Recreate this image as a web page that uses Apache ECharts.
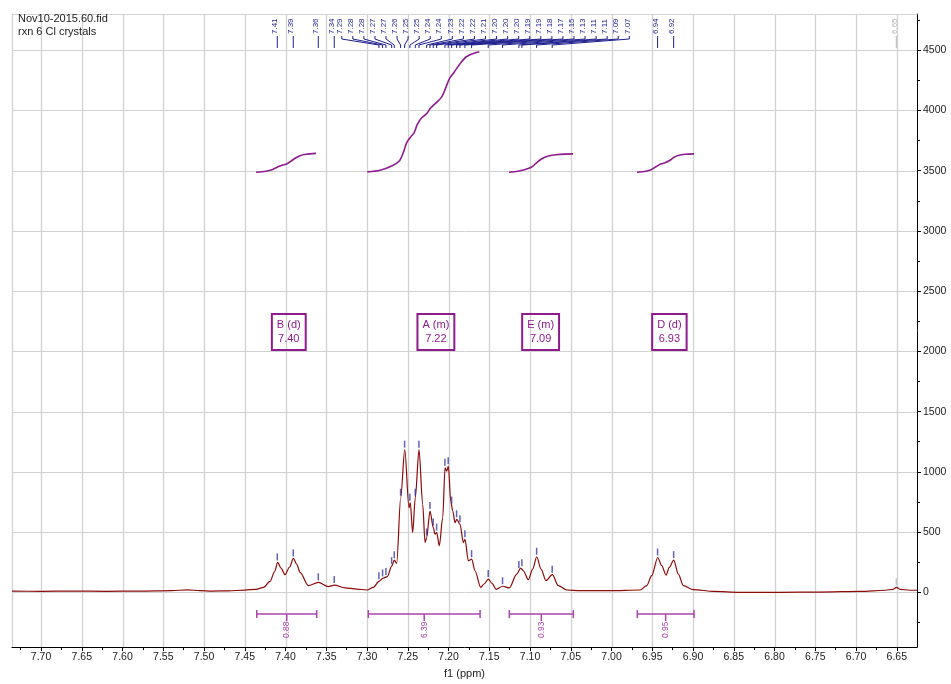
<!DOCTYPE html>
<html><head><meta charset="utf-8">
<script src="https://cdn.jsdelivr.net/npm/echarts@6/dist/echarts.min.js"></script>
<style>html,body{margin:0;padding:0;background:#fff}#c{width:951px;height:684px}</style>
</head><body><div id="c"></div>
<script>
// ---------------- DATA ----------------
const titleLines = ['Nov10-2015.60.fid', 'rxn 6 Cl crystals'];
const axisTitle = 'f1 (ppm)';

// axis tick labels
const xTickValues = [7.70, 7.65, 7.60, 7.55, 7.50, 7.45, 7.40, 7.35, 7.30, 7.25, 7.20, 7.15, 7.10, 7.05, 7.00, 6.95, 6.90, 6.85, 6.80, 6.75, 6.70, 6.65];
const yTickValues = [0, 500, 1000, 1500, 2000, 2500, 3000, 3500, 4000, 4500];

// 1H spectrum trace (ppm, intensity)
const specPpm = [7.7356, 7.70, 7.66, 7.62, 7.58, 7.54, 7.52, 7.505, 7.49, 7.47, 7.45, 7.4362, 7.427, 7.419, 7.4135, 7.4096, 7.4055, 7.4006, 7.395, 7.3904, 7.386, 7.3822, 7.372, 7.3597, 7.3475, 7.3401, 7.327, 7.3126, 7.3004, 7.2923, 7.2853, 7.28, 7.2751, 7.2697, 7.2665, 7.2636, 7.2587, 7.2537, 7.2485, 7.2469, 7.244, 7.2408, 7.2362, 7.2317, 7.2288, 7.2268, 7.2227, 7.2187, 7.2166, 7.2145, 7.2113, 7.2071, 7.2043, 7.2022, 7.2002, 7.1973, 7.1948, 7.192, 7.1899, 7.1859, 7.1818, 7.1798, 7.1757, 7.1716, 7.1675, 7.1605, 7.1564, 7.1512, 7.1466, 7.1417, 7.1335, 7.1254, 7.1163, 7.1114, 7.1082, 7.1021, 7.0967, 7.0918, 7.0865, 7.0804, 7.0726, 7.0653, 7.055, 7.0387, 7.0018, 6.965, 6.9568, 6.9507, 6.9433, 6.9384, 6.9331, 6.9291, 6.9237, 6.918, 6.9119, 6.8996, 6.8751, 6.8423, 6.793, 6.744, 6.695, 6.664, 6.6546, 6.6503, 6.646, 6.634, 6.6252];
const specIntensity = [10, 8, 10, 8, 10, 14, 20, 14, 10, 12, 18, 25, 41, 90, 170, 248, 200, 146, 210, 281, 230, 165, 55, 83, 47, 60, 37, 27, 19, 41, 91, 118, 130, 217, 267, 240, 785, 1184, 702, 744, 496, 785, 1184, 730, 413, 455, 675, 537, 482, 496, 386, 620, 1033, 1006, 1047, 758, 675, 578, 606, 564, 413, 440, 262, 275, 179, 41, 69, 110, 74, 25, 50, 36, 151, 201, 179, 105, 193, 295, 193, 97, 146, 55, 19, 14, 14, 19, 55, 138, 289, 221, 143, 207, 267, 151, 55, 22, 8, 0, 0, 2, 8, 17, 25, 41, 25, 17, 17];

// picked peaks
const peakPpm = [7.4101, 7.3905, 7.3598, 7.3402, 7.2854, 7.2809, 7.2768, 7.2698, 7.2666, 7.2588, 7.2539, 7.2474, 7.2408, 7.2363, 7.2269, 7.2228, 7.2188, 7.2146, 7.2044, 7.2004, 7.1962, 7.1901, 7.1860, 7.1799, 7.1717, 7.1513, 7.1337, 7.1137, 7.1100, 7.0919, 7.0728, 6.9435, 6.9238, 6.6506];
const peakHeight = [248, 281, 83, 60, 91, 115, 128, 217, 267, 785, 1184, 744, 785, 1184, 455, 675, 537, 496, 1033, 1047, 720, 606, 564, 440, 275, 110, 50, 185, 200, 295, 146, 289, 267, 41];
const peakMuted = [0,0,0,0,0,0,0,0,0,0,0,0,0,0,0,0,0,0,0,0,0,0,0,0,0,0,0,0,0,0,0,0,0,1];

// integration regions
const integralFrom = [7.4353, 7.2984, 7.1254, 6.9684];
const integralTo = [7.3617, 7.1613, 7.0469, 6.8988];
const integralValue = [0.88, 6.39, 0.93, 0.95];

// multiplet annotations
const multipletName = ['B (d)', 'A (m)', 'E (m)', 'D (d)'];
const multipletShift = [7.396, 7.2155, 7.087, 6.929];

// integral curves
const intB_ppm = [7.4362, 7.4239, 7.4166, 7.4104, 7.4043, 7.3982, 7.3933, 7.3883, 7.3822, 7.3748, 7.3626];
const intB_val = [3487, 3496, 3508, 3529, 3545, 3558, 3579, 3603, 3624, 3636, 3644];
const intA_ppm = [7.2996, 7.2840, 7.2697, 7.2604, 7.2555, 7.2513, 7.2472, 7.2423, 7.2383, 7.2329, 7.2267, 7.2218, 7.2153, 7.2083, 7.2043, 7.1990, 7.1933, 7.1859, 7.1785, 7.1703, 7.1622];
const intA_val = [3490, 3504, 3539, 3581, 3650, 3733, 3774, 3815, 3884, 3939, 3975, 4022, 4063, 4113, 4173, 4262, 4316, 4388, 4444, 4471, 4487];
const intE_ppm = [7.1258, 7.1147, 7.1049, 7.0975, 7.0914, 7.0865, 7.0804, 7.0730, 7.0632, 7.0472];
const intE_val = [3487, 3496, 3512, 3533, 3570, 3595, 3616, 3628, 3636, 3640];
const intD_ppm = [6.9687, 6.9577, 6.9515, 6.9454, 6.9405, 6.9344, 6.9282, 6.9233, 6.9172, 6.9098, 6.8988];
const intD_val = [3487, 3496, 3508, 3533, 3554, 3566, 3587, 3612, 3628, 3636, 3640];

// ---------------- LAYOUT / STYLE ----------------
const X_MIN = 6.6252, X_MAX = 7.7356;
const Y_MIN = -455, Y_MAX = 4801;
const BOX_Y = 2161;
const FAN = { first: 4, last: 30, from: 7.331, to: 6.9782 };
const FONT = '"Liberation Sans", Arial, sans-serif';
const C_SPEC = '#8b0a0a', C_PEAK = '#1f1f8f', C_MUTED = '#b5b5b5';
const C_INT = '#8e1c8e', C_BAR = '#ad45ad', C_GRID = '#d2d2d2';

function zip(a, b) { return a.map((v, i) => [v, b[i]]); }
// minor ticks half-way between major ticks (plus one beyond each end, clipped to the axis range)
function halfSteps(majors, lo, hi) {
  const step = majors[1] - majors[0];
  const out = [];
  for (let i = -1; i < majors.length; i++) {
    const base = i < 0 ? majors[0] - step : majors[i];
    const v = +(base + step / 2).toFixed(4);
    if (v >= Math.min(lo, hi) && v <= Math.max(lo, hi)) out.push(v);
  }
  return out;
}
const xMinor = halfSteps(xTickValues, X_MIN, X_MAX);
const yMinor = halfSteps(yTickValues, Y_MIN, Y_MAX);

// label layout: crowded labels fanned evenly over a range
const labelPpm = peakPpm.map((p, i) => {
  if (i >= FAN.first && i <= FAN.last) {
    const t = (i - FAN.first) / (FAN.last - FAN.first);
    return FAN.from + (FAN.to - FAN.from) * t;
  }
  return p;
});

const chart = echarts.init(document.getElementById('c'), null, { renderer: 'canvas' });

const intLine = (ppm, val) => ({
  type: 'line', data: zip(ppm, val), showSymbol: false, symbol: 'none',
  smooth: 0.3, lineStyle: { color: C_INT, width: 1.6 }, z: 4, silent: true
});

const hiddenAxisParts = { axisLabel: { show: false }, splitLine: { show: false }, minorSplitLine: { show: false } };

const option = {
  animation: false,
  backgroundColor: '#ffffff',
  title: {
    text: titleLines.join('\n'), left: 13, top: 7,
    textStyle: { fontSize: 11, fontWeight: 'normal', color: '#222', fontFamily: FONT, lineHeight: 13.5 }
  },
  grid: { left: 12, right: 34, top: 14, bottom: 34, containLabel: false },
  xAxis: [{
    type: 'value', inverse: true, min: X_MIN, max: X_MAX, position: 'bottom',
    axisLine: { show: true, onZero: false, lineStyle: { color: '#000', width: 1 } },
    axisTick: { show: true, length: 4, customValues: xTickValues, lineStyle: { color: '#000' } },
    axisLabel: { customValues: xTickValues, formatter: v => v.toFixed(2), color: '#222', fontSize: 10.5, fontFamily: FONT, margin: 5 },
    splitLine: { show: false }, minorSplitLine: { show: false },
    name: axisTitle, nameLocation: 'middle', nameGap: 19,
    nameTextStyle: { color: '#222', fontSize: 11, fontFamily: FONT }
  }, Object.assign({
    type: 'value', inverse: true, min: X_MIN, max: X_MAX, position: 'bottom', offset: 0,
    axisLine: { show: false, onZero: false }, axisTick: { show: true, length: 3, customValues: xMinor, lineStyle: { color: '#000' } }
  }, hiddenAxisParts), Object.assign({
    type: 'value', inverse: true, min: X_MIN, max: X_MAX, position: 'top', offset: 0,
    axisLine: { show: true, onZero: false, lineStyle: { color: C_GRID, width: 1 } }, axisTick: { show: false }
  }, hiddenAxisParts)],
  yAxis: [{
    type: 'value', position: 'right', min: Y_MIN, max: Y_MAX,
    axisLine: { show: true, onZero: false, lineStyle: { color: '#000', width: 1 } },
    axisTick: { show: true, length: 4, customValues: yTickValues, lineStyle: { color: '#000' } },
    axisLabel: { customValues: yTickValues, formatter: v => String(v), color: '#222', fontSize: 10.5, fontFamily: FONT, margin: 6 },
    splitLine: { show: false }, minorSplitLine: { show: false }
  }, Object.assign({
    type: 'value', position: 'right', offset: 0, min: Y_MIN, max: Y_MAX,
    axisLine: { show: false, onZero: false }, axisTick: { show: true, length: 3, customValues: yMinor, lineStyle: { color: '#000' } }
  }, hiddenAxisParts), Object.assign({
    type: 'value', position: 'left', offset: 0, min: Y_MIN, max: Y_MAX,
    axisLine: { show: true, onZero: false, lineStyle: { color: C_GRID, width: 1.3 } }, axisTick: { show: false }
  }, hiddenAxisParts)],
  series: [
    { // vertical grid lines at the ppm ticks
      type: 'custom', z: 1, silent: true,
      data: xTickValues.map(v => [v, 0]),
      renderItem: (params, api) => {
        const cs = params.coordSys;
        const x = Math.round(api.coord([api.value(0), 0])[0]) + 0.5;
        return { type: 'line', shape: { x1: x, y1: cs.y, x2: x, y2: cs.y + cs.height },
          style: { stroke: C_GRID, lineWidth: 1.3 } };
      }
    },
    { // horizontal grid lines at the intensity ticks
      type: 'custom', z: 1, silent: true,
      data: yTickValues.map(v => [X_MAX, v]),
      renderItem: (params, api) => {
        const cs = params.coordSys;
        const y = Math.round(api.coord([X_MAX, api.value(1)])[1]) + 0.5;
        return { type: 'line', shape: { x1: cs.x, y1: y, x2: cs.x + cs.width, y2: y },
          style: { stroke: C_GRID, lineWidth: 1 } };
      }
    },
    {
      type: 'line', data: zip(specPpm, specIntensity), showSymbol: false, symbol: 'none',
      smooth: 0.3, smoothMonotone: 'x', lineStyle: { color: C_SPEC, width: 1.2 }, z: 3, silent: true
    },
    intLine(intB_ppm, intB_val), intLine(intA_ppm, intA_val),
    intLine(intE_ppm, intE_val), intLine(intD_ppm, intD_val),
    { // peak markers on the trace
      type: 'custom', z: 5, silent: true,
      data: peakPpm.map((p, i) => [p, peakHeight[i], peakMuted[i]]),
      renderItem: (params, api) => {
        const pt = api.coord([api.value(0), api.value(1)]);
        const muted = api.value(2) === 1;
        return { type: 'line', shape: { x1: pt[0], y1: pt[1] - 2, x2: pt[0], y2: pt[1] - 9 },
          style: { stroke: muted ? C_MUTED : '#2d2da0', lineWidth: 1.5, opacity: 0.75 } };
      }
    },
    { // peak labels with leader lines
      type: 'custom', z: 5, silent: true,
      data: peakPpm.map((p, i) => [p, labelPpm[i], peakMuted[i]]),
      renderItem: (params, api) => {
        const top = params.coordSys.y;
        const px = api.coord([api.value(0), 0])[0];
        const lx = api.coord([api.value(1), 0])[0];
        const color = api.value(2) === 1 ? C_MUTED : C_PEAK;
        const text = peakPpm[params.dataIndex].toFixed(2);
        return { type: 'group', children: [
          { type: 'text', x: lx - 2, y: top + 20, rotation: Math.PI / 2,
            style: { text, fill: color, font: '8px ' + FONT, align: 'left', verticalAlign: 'middle' } },
          { type: 'polyline', shape: { points: [[lx, top + 22], [lx, top + 25], [px, top + 31], [px, top + 34]] },
            style: { stroke: color, lineWidth: 1, fill: null } }
        ] };
      }
    },
    { // integration bars
      type: 'custom', z: 5, silent: true,
      data: integralFrom.map((f, i) => [f, integralTo[i], integralValue[i]]),
      renderItem: (params, api) => {
        const cs = params.coordSys;
        const yb = cs.y + cs.height - 33;
        const x1 = api.coord([api.value(0), 0])[0];
        const x2 = api.coord([api.value(1), 0])[0];
        const xm = (x1 + x2) / 2;
        const st = { stroke: C_BAR, lineWidth: 1.5 };
        return { type: 'group', children: [
          { type: 'line', shape: { x1: x1, y1: yb, x2: x2, y2: yb }, style: st },
          { type: 'line', shape: { x1: x1, y1: yb - 4, x2: x1, y2: yb + 4 }, style: st },
          { type: 'line', shape: { x1: x2, y1: yb - 4, x2: x2, y2: yb + 4 }, style: st },
          { type: 'line', shape: { x1: xm, y1: yb, x2: xm, y2: yb + 7 }, style: st },
          { type: 'text', x: xm, y: yb + 24, rotation: Math.PI / 2,
            style: { text: api.value(2).toFixed(2), fill: C_BAR, font: '8.5px ' + FONT, align: 'left', verticalAlign: 'middle' } }
        ] };
      }
    },
    { // multiplet boxes
      type: 'custom', z: 6, silent: true,
      data: multipletShift.map((s, i) => [s, BOX_Y]),
      renderItem: (params, api) => {
        const pt = api.coord([api.value(0), api.value(1)]);
        const i = params.dataIndex;
        return { type: 'text', x: pt[0], y: pt[1],
          style: { text: multipletName[i] + '\n' + multipletShift[i].toFixed(2), fill: C_INT,
            font: '11px ' + FONT, lineHeight: 14, align: 'center', verticalAlign: 'middle',
            padding: [4, 5, 4, 5], borderColor: C_INT, borderWidth: 1, backgroundColor: 'rgba(255,255,255,0)' } };
      }
    }
  ]
};
chart.setOption(option);
</script>
</body></html>
